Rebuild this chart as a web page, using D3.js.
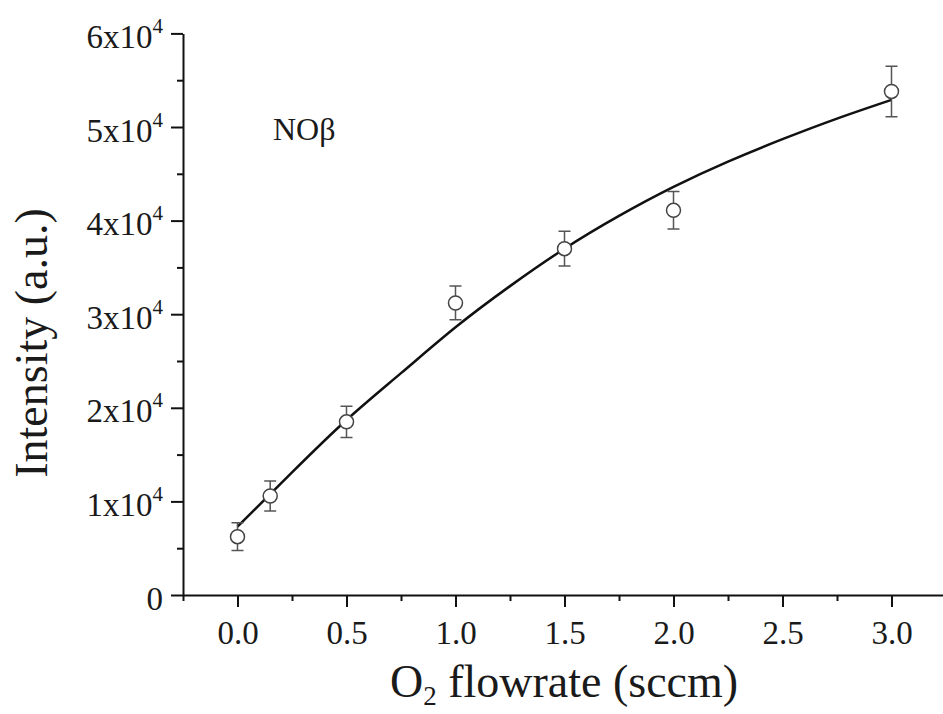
<!DOCTYPE html>
<html>
<head>
<meta charset="utf-8">
<script src="https://cdn.jsdelivr.net/npm/d3@7"></script>
<style>
  body { margin: 0; background: #fff; }
  svg { display: block; font-family: 'Liberation Serif', 'Times New Roman', serif; }
</style>
</head>
<body>
<div id="container"></div>
<script>
// measured points
const flowrate = [0, 0.15, 0.5, 1.0, 1.5, 2.0, 3.0];
const intensity = [6230, 10580, 18500, 31200, 37000, 41100, 53800];
const errors = [1480, 1600, 1670, 1800, 1850, 2000, 2700];

// fitted curve
const fitX = [0, 0.25, 0.5, 0.75, 1.0, 1.25, 1.5, 1.75, 2.0, 2.25, 2.5, 2.75, 3.0];
const fitY = [7300, 13100, 18700, 23700, 28600, 33000, 37000, 40500, 43600, 46300, 48700, 50900, 52900];

const xTicks = [0, 0.5, 1.0, 1.5, 2.0, 2.5, 3.0];
const xMinor = [-0.25, 0.25, 0.75, 1.25, 1.75, 2.25, 2.75, 3.25];
const yTicks = [0, 1, 2, 3, 4, 5, 6];
const yMinor = [0.5, 1.5, 2.5, 3.5, 4.5, 5.5];

const width = 943, height = 714;
const plotLeft = 183, plotBottom = 595, plotTop = 33.4;

const svg = d3.select('#container').append('svg')
  .attr('width', width)
  .attr('height', height);

const x = d3.scaleLinear().domain([-0.25, 3.25]).range([plotLeft, plotLeft + 3.5 * 218]);
const y = d3.scaleLinear().domain([0, 60000]).range([plotBottom, plotTop]);

// x axis
const xAxis = svg.append('g')
  .attr('transform', `translate(0,${plotBottom})`)
  .call(d3.axisBottom(x).tickValues(xTicks).tickSize(12).tickSizeOuter(0)
    .tickFormat(d3.format('.1f')));
svg.append('g')
  .attr('transform', `translate(0,${plotBottom})`)
  .call(d3.axisBottom(x).tickValues(xMinor).tickSize(6).tickSizeOuter(0).tickFormat(''))
  .select('.domain').remove();

xAxis.selectAll('text')
  .attr('y', 26)
  .style('font-size', '33px')
  .style('font-family', 'Liberation Serif')
  .attr('fill', '#1a1a1a');

// y axis
const yAxis = svg.append('g')
  .attr('transform', `translate(${plotLeft},0)`)
  .call(d3.axisLeft(y).tickValues(yTicks.map(d => d * 1e4)).tickSize(12).tickSizeOuter(0)
    .tickFormat(''));
svg.append('g')
  .attr('transform', `translate(${plotLeft},0)`)
  .call(d3.axisLeft(y).tickValues(yMinor.map(d => d * 1e4)).tickSize(6).tickSizeOuter(0).tickFormat(''))
  .select('.domain').remove();

yAxis.selectAll('.tick').each(function(d) {
  const t = d3.select(this).select('text')
    .attr('x', -20)
    .attr('dy', 14)
    .attr('text-anchor', 'end')
    .attr('fill', '#1a1a1a')
    .style('font-size', '33px')
    .style('font-family', 'Liberation Serif')
    .text(null);
  const v = d / 1e4;
  if (v === 0) {
    t.append('tspan').text('0');
  } else {
    t.append('tspan').text(v + 'x10');
    t.append('tspan').attr('dy', -15).style('font-size', '21px').text('4');
  }
});

svg.selectAll('.domain, .tick line')
  .attr('stroke', '#111')
  .attr('stroke-width', 2);

// fit curve
const line = d3.line()
  .x(d => x(d[0]))
  .y(d => y(d[1]))
  .curve(d3.curveNatural);

svg.append('path')
  .datum(fitX.map((v, i) => [v, fitY[i]]))
  .attr('d', line)
  .attr('fill', 'none')
  .attr('stroke', '#111')
  .attr('stroke-width', 2.5);

// error bars and points
const pts = flowrate.map((v, i) => ({ x: v, y: intensity[i], e: errors[i] }));

const bars = svg.append('g')
  .attr('stroke', '#555')
  .attr('stroke-width', 1.5);

bars.selectAll('.err')
  .data(pts).enter()
  .append('path')
  .attr('fill', 'none')
  .attr('d', d => {
    const cx = x(d.x), y0 = y(d.y - d.e), y1 = y(d.y + d.e);
    return `M${cx - 6},${y1}H${cx + 6}M${cx},${y1}V${y0}M${cx - 6},${y0}H${cx + 6}`;
  });

svg.append('g')
  .selectAll('circle')
  .data(pts).enter()
  .append('circle')
  .attr('cx', d => x(d.x))
  .attr('cy', d => y(d.y))
  .attr('r', 7)
  .attr('fill', '#fff')
  .attr('stroke', '#444')
  .attr('stroke-width', 1.5);

// labels
svg.append('text')
  .attr('x', 273)
  .attr('y', 140)
  .attr('fill', '#1a1a1a')
  .style('font-size', '32px')
  .text('NOβ');

svg.append('text')
  .attr('transform', 'translate(47,343) rotate(-90)')
  .attr('text-anchor', 'middle')
  .attr('fill', '#1a1a1a')
  .style('font-size', '46px')
  .text('Intensity (a.u.)');

const xt = svg.append('text')
  .attr('x', 564)
  .attr('y', 697)
  .attr('text-anchor', 'middle')
  .attr('fill', '#1a1a1a')
  .style('font-size', '46px');
xt.append('tspan').text('O');
xt.append('tspan').attr('dy', 8).style('font-size', '27px').text('2');
xt.append('tspan').attr('dy', -8).text(' flowrate (sccm)');
</script>
</body>
</html>
